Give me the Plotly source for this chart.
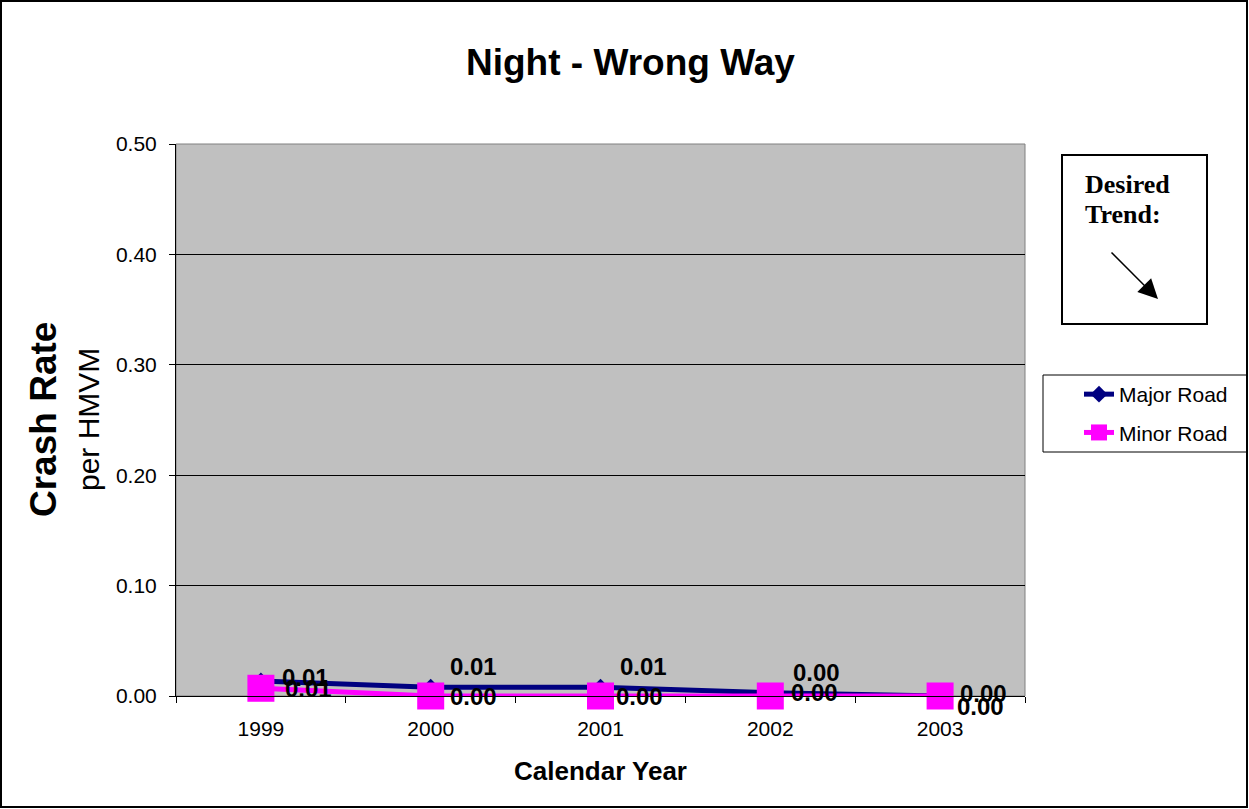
import plotly.graph_objects as go

years = ["1999", "2000", "2001", "2002", "2003"]
major_road = [0.0136, 0.008, 0.008, 0.003, 0.0]
minor_road = [0.007, 0.0, 0.0, 0.0, 0.0]
y_ticks = [0.0, 0.1, 0.2, 0.3, 0.4, 0.5]

# label offsets (px) relative to each point: style only
major_dx = [19, 17, 17, 21, 18]
major_dy = [3, 21, 21, 20, 3]
minor_dx = [22, 17, 13, 19, 15]
minor_dy = [0, 0, 0, 4, -10]

W, H = 1249, 809
L, R, T, B = 176, 1025, 144, 696

def px(x):
    return (x - L) / (R - L)

def py(y):
    return (B - y) / (B - T)

SANS = "Liberation Sans, Arial, sans-serif"
SERIF = "Liberation Serif, Times New Roman, serif"
lblfont = dict(family=SANS, size=24, color="black")

fig = go.Figure()
fig.add_trace(go.Scatter(
    x=years, y=major_road, name="Major Road", mode="lines+markers",
    legendgroup="a",
    line=dict(color="#000080", width=5),
    marker=dict(symbol="diamond", size=13, color="#000080"),
    cliponaxis=False,
))
fig.add_trace(go.Scatter(
    x=years, y=minor_road, name="Minor Road", mode="lines+markers",
    legendgroup="b",
    line=dict(color="#FF00FF", width=5),
    marker=dict(symbol="square", size=27, color="#FF00FF"),
    cliponaxis=False,
))

for i, (v, dx, dy) in enumerate(zip(major_road, major_dx, major_dy)):
    fig.add_annotation(x=i, y=v, xref="x", yref="y", text=f"<b>{v:.2f}</b>",
                       showarrow=False, xanchor="left", yanchor="middle",
                       xshift=dx, yshift=dy, font=lblfont)
for i, (v, dx, dy) in enumerate(zip(minor_road, minor_dx, minor_dy)):
    fig.add_annotation(x=i, y=v, xref="x", yref="y", text=f"<b>{v:.2f}</b>",
                       showarrow=False, xanchor="left", yanchor="middle",
                       xshift=dx, yshift=dy, font=lblfont)

fig.update_layout(
    width=W, height=H,
    margin=dict(l=L, r=W - R, t=T, b=H - B, pad=0),
    paper_bgcolor="white", plot_bgcolor="#C0C0C0",
    font=dict(family=SANS, size=21, color="black"),
    showlegend=True,
    legend=dict(x=px(1079), y=py(374), xanchor="left", yanchor="top",
                bgcolor="rgba(0,0,0,0)", borderwidth=0,
                traceorder="grouped", tracegroupgap=8,
                font=dict(family=SANS, size=21)),
    xaxis=dict(type="category", range=[-0.5, 4.5], tickson="boundaries",
               ticks="outside", ticklen=6, tickcolor="black",
               ticklabelstandoff=14,
               showline=True, linecolor="black", linewidth=1,
               showgrid=False, tickfont=dict(size=21)),
    yaxis=dict(range=[0, 0.5], tickvals=y_ticks, tickformat=".2f",
               ticks="outside", ticklen=6, tickcolor="black",
               ticklabelstandoff=8,
               showline=True, linecolor="black", linewidth=1,
               showgrid=True, gridcolor="black", gridwidth=1,
               zeroline=False, tickfont=dict(size=21)),
)

# plot area border
fig.add_shape(type="rect", xref="paper", yref="paper", x0=0, y0=0, x1=1, y1=1,
              line=dict(color="#808080", width=1), layer="below")
# outer border
fig.add_shape(type="rect", xref="paper", yref="paper",
              x0=px(1), y0=py(807), x1=px(1247), y1=py(1),
              line=dict(color="black", width=2))
# legend box
fig.add_shape(type="rect", xref="paper", yref="paper",
              x0=px(1043), y0=py(452), x1=px(1247), y1=py(375),
              line=dict(color="black", width=1), fillcolor="white", layer="below")
# desired trend box
fig.add_shape(type="rect", xref="paper", yref="paper",
              x0=px(1062), y0=py(324), x1=px(1207), y1=py(155),
              line=dict(color="black", width=2), fillcolor="white")

fig.add_annotation(xref="paper", yref="paper", x=px(1083), y=py(184),
                   xanchor="left", yanchor="middle", showarrow=False,
                   text="<b>Desired</b>",
                   font=dict(family=SERIF, size=26, color="black"))
fig.add_annotation(xref="paper", yref="paper", x=px(1083), y=py(214),
                   xanchor="left", yanchor="middle", showarrow=False,
                   text="<b>Trend:</b>",
                   font=dict(family=SERIF, size=26, color="black"))
fig.add_annotation(xref="paper", yref="paper", x=px(1158), y=py(299),
                   ax=-48, ay=-48, showarrow=True, arrowhead=2, arrowsize=2.6,
                   arrowwidth=1.5, arrowcolor="black", text="")

# titles
fig.add_annotation(xref="paper", yref="paper", x=px(630), y=py(62),
                   xanchor="center", yanchor="middle",
                   showarrow=False, text="<b>Night - Wrong Way</b>",
                   font=dict(family=SANS, size=37, color="black"))
fig.add_annotation(xref="paper", yref="paper", x=px(600), y=py(771),
                   xanchor="center", yanchor="middle",
                   showarrow=False, text="<b>Calendar Year</b>",
                   font=dict(family=SANS, size=26, color="black"))
fig.add_annotation(xref="paper", yref="paper", x=px(43), y=py(420),
                   xanchor="center", yanchor="middle",
                   showarrow=False, textangle=-90, text="<b>Crash Rate</b>",
                   font=dict(family=SANS, size=37, color="black"))
fig.add_annotation(xref="paper", yref="paper", x=px(88), y=py(420),
                   xanchor="center", yanchor="middle",
                   showarrow=False, textangle=-90, text="per HMVM",
                   font=dict(family=SANS, size=30, color="black"))

fig.write_html("out.html", config={"displayModeBar": False},
               post_script="document.body.style.margin='0';")
